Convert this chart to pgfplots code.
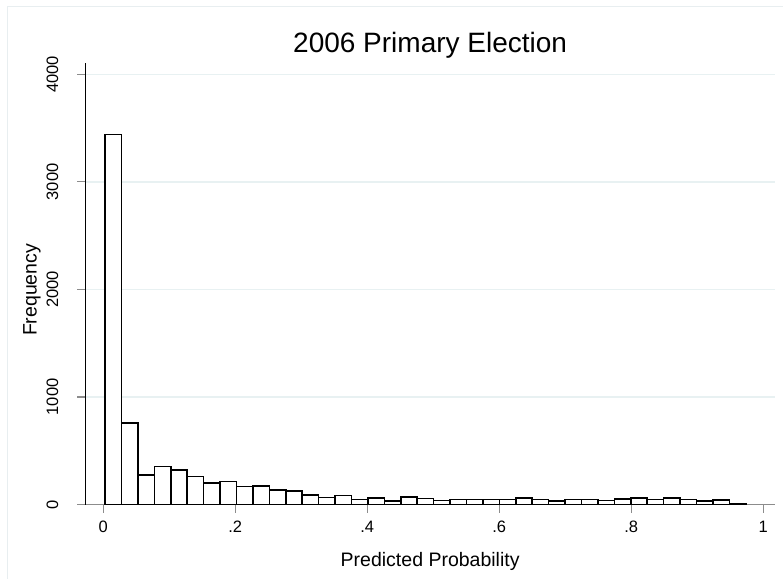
\documentclass[border=0pt]{standalone}
\usepackage{pgfplots}
\pgfplotsset{compat=1.18}
\usepackage{graphicx}
\usepackage{fontspec}
\setmainfont{Liberation Sans}
\definecolor{gridcol}{RGB}{232,241,242}
\definecolor{framecol}{RGB}{232,238,240}
\definecolor{axgray}{RGB}{140,140,140}
\begin{document}
\begin{tikzpicture}
\useasboundingbox (0,0) rectangle (783bp,579bp);
\draw[color=framecol, line width=1bp] (7bp,0) -- (7bp,572bp) -- (783bp,572bp);
\begin{axis}[
  at={(85.3bp,74.5bp)}, anchor=south west,
  scale only axis, width=689.7bp, height=441.2bp,
  xmin=-0.0273, xmax=1.018, ymin=0, ymax=4102,
  axis x line*=bottom, axis y line*=left,
  x axis line style={axgray, line width=1.2bp},
  y axis line style={black, line width=1bp},
  xtick={0,0.2,0.4,0.6,0.8,1},
  xticklabels={0,.2,.4,.6,.8,1},
  ytick={0,1000,2000,3000,4000},
  yticklabels={\rotatebox{90}{0},\rotatebox{90}{1000},\rotatebox{90}{2000},\rotatebox{90}{3000},\rotatebox{90}{4000}},
  tick align=outside, major tick length=8bp,
  tick style={axgray, line width=1.2bp},
  ymajorgrids, grid style={gridcol, line width=1.4bp},
  every tick label/.append style={font=\fontsize{16.5bp}{19bp}\selectfont},
  xticklabel style={anchor=north, inner sep=0pt, yshift=-8.2bp},
  yticklabel style={anchor=east, inner sep=0pt, xshift=-18.8bp},
  title={2006 Primary Election},
  title style={font=\fontsize{28bp}{32bp}\selectfont, at={(axis description cs:0.5,1)}, anchor=base, yshift=5.3bp},
  xlabel={Predicted Probability},
  ylabel={Frequency},
  label style={font=\fontsize{19.5bp}{23bp}\selectfont},
  xlabel style={at={(axis description cs:0.5,0)}, anchor=base, yshift=-61.5bp},
  ylabel style={at={([xshift=-48.8bp,yshift=-6bp]axis description cs:0,0.5)}, anchor=base},
  clip=false,
]
\addplot[ybar interval, fill=white, draw=black, line width=1.6bp] coordinates {
(0.0026,3440) (0.0275,755) (0.0524,275) (0.0773,352) (0.1022,318)
(0.1271,260) (0.1520,198) (0.1769,212) (0.2018,167) (0.2267,172)
(0.2516,137) (0.2765,123) (0.3014,90) (0.3263,64) (0.3512,83)
(0.3761,46) (0.4010,58) (0.4259,35) (0.4508,67) (0.4757,57)
(0.5006,36) (0.5255,47) (0.5504,46) (0.5753,45) (0.6002,46)
(0.6251,60) (0.6500,46) (0.6749,34) (0.6998,48) (0.7247,48)
(0.7496,36) (0.7745,51) (0.7994,60) (0.8243,48) (0.8492,60)
(0.8741,48) (0.8990,30) (0.9239,40) (0.9488,5) (0.9737,5)
};
\end{axis}
\end{tikzpicture}
\end{document}
